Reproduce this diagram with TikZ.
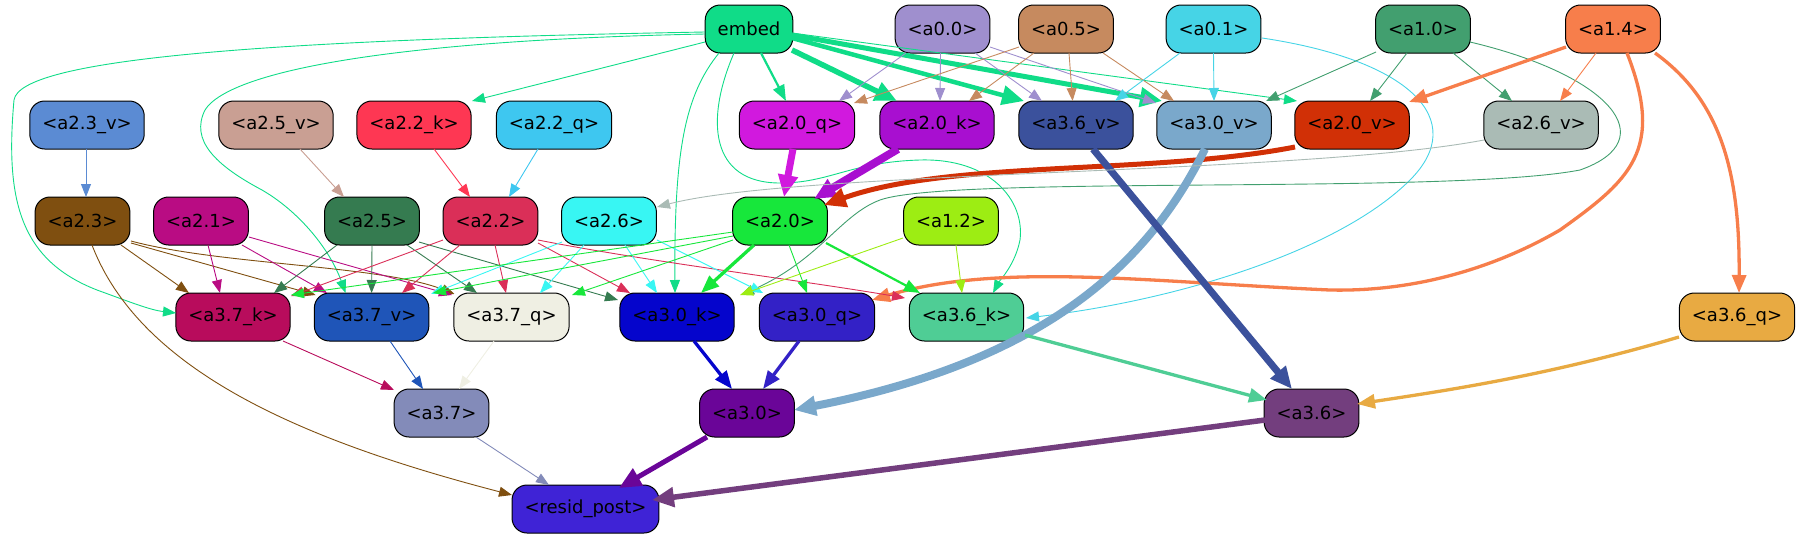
\documentclass[tikz,border=0pt]{standalone}
\usepackage{fontspec}
\setmainfont{DejaVu Sans}
\usetikzlibrary{arrows.meta,calc}
\definecolor{cembed}{HTML}{10DC88}
\definecolor{c00}{HTML}{9F8FCE}
\definecolor{c05}{HTML}{C68A5F}
\definecolor{c01}{HTML}{46D4E6}
\definecolor{c10}{HTML}{429F6F}
\definecolor{c14}{HTML}{F77E4B}
\definecolor{c23v}{HTML}{5B8BD3}
\definecolor{c25v}{HTML}{C99F93}
\definecolor{c22k}{HTML}{FE3753}
\definecolor{c22q}{HTML}{3EC7F0}
\definecolor{c20q}{HTML}{D119DE}
\definecolor{c20k}{HTML}{A80FD0}
\definecolor{c36v}{HTML}{3B519C}
\definecolor{c30v}{HTML}{7AA8CB}
\definecolor{c20v}{HTML}{D13006}
\definecolor{c26v}{HTML}{AABBB5}
\definecolor{c23}{HTML}{7F4F10}
\definecolor{c21}{HTML}{B90C83}
\definecolor{c25}{HTML}{357B50}
\definecolor{c22}{HTML}{DA2F58}
\definecolor{c26}{HTML}{38F6F3}
\definecolor{c20}{HTML}{17E73B}
\definecolor{c12}{HTML}{9DED13}
\definecolor{c37k}{HTML}{B80C5C}
\definecolor{c37v}{HTML}{1F55B8}
\definecolor{c37q}{HTML}{EFEFE3}
\definecolor{c30k}{HTML}{0505CC}
\definecolor{c30q}{HTML}{3321C6}
\definecolor{c36k}{HTML}{4FCD95}
\definecolor{c36q}{HTML}{E8AA42}
\definecolor{c37}{HTML}{838BB9}
\definecolor{c30}{HTML}{6A0598}
\definecolor{c36}{HTML}{733E7E}
\definecolor{cres}{HTML}{3F23D6}
\begin{document}
\begin{tikzpicture}[x=1pt,y=-1pt,
 nd/.style={draw=black, line width=1pt, rounded corners=15pt, minimum height=48pt, inner xsep=12.5pt, inner ysep=0pt, font=\fontsize{18}{21.6}\selectfont},
 e/.style={-{Triangle[length=13pt,width=10pt]}, line width=0.9pt},
 em/.style={-{Triangle[length=16pt,width=12pt]}, line width=2.2pt},
 et/.style={-{Triangle[length=18pt,width=14pt]}, line width=3.3pt},
 eb/.style={-{Triangle[length=22pt,width=19pt]}, line width=#1}]
\useasboundingbox (0,0) rectangle (1802,539);
% nodes
\node[nd,fill=cembed] (embed) at (749,29) {embed};
\node[nd,fill=c00] (a00) at (942.5,29) {<a0.0>};
\node[nd,fill=c05] (a05) at (1066,29) {<a0.5>};
\node[nd,fill=c01] (a01) at (1213.5,29) {<a0.1>};
\node[nd,fill=c10] (a10) at (1423,29) {<a1.0>};
\node[nd,fill=c14] (a14) at (1613,29) {<a1.4>};
\node[nd,fill=c23v] (a23v) at (87,125) {<a2.3\_v>};
\node[nd,fill=c25v] (a25v) at (276,125) {<a2.5\_v>};
\node[nd,fill=c22k] (a22k) at (414,125) {<a2.2\_k>};
\node[nd,fill=c22q] (a22q) at (554,125) {<a2.2\_q>};
\node[nd,fill=c20q] (a20q) at (797,125) {<a2.0\_q>};
\node[nd,fill=c20k] (a20k) at (937,125) {<a2.0\_k>};
\node[nd,fill=c36v] (a36v) at (1076,125) {<a3.6\_v>};
\node[nd,fill=c30v] (a30v) at (1214,125) {<a3.0\_v>};
\node[nd,fill=c20v] (a20v) at (1352,125) {<a2.0\_v>};
\node[nd,fill=c26v] (a26v) at (1541,125) {<a2.6\_v>};
\node[nd,fill=c23] (a23) at (82.5,221) {<a2.3>};
\node[nd,fill=c21] (a21) at (201,221) {<a2.1>};
\node[nd,fill=c25] (a25) at (372,221) {<a2.5>};
\node[nd,fill=c22] (a22) at (490.5,221) {<a2.2>};
\node[nd,fill=c26] (a26) at (609,221) {<a2.6>};
\node[nd,fill=c20] (a20) at (780,221) {<a2.0>};
\node[nd,fill=c12] (a12) at (951,221) {<a1.2>};
\node[nd,fill=c37k] (a37k) at (233,317) {<a3.7\_k>};
\node[nd,fill=c37v] (a37v) at (371.6,317) {<a3.7\_v>};
\node[nd,fill=c37q] (a37q) at (511.5,317) {<a3.7\_q>};
\node[nd,fill=c30k] (a30k) at (677,317) {<a3.0\_k>};
\node[nd,fill=c30q] (a30q) at (817,317) {<a3.0\_q>};
\node[nd,fill=c36k] (a36k) at (966.5,317) {<a3.6\_k>};
\node[nd,fill=c36q] (a36q) at (1737,317) {<a3.6\_q>};
\node[nd,fill=c37] (a37) at (441.5,413) {<a3.7>};
\node[nd,fill=c30] (a30) at (747,413) {<a3.0>};
\node[nd,fill=c36] (a36) at (1311.5,413) {<a3.6>};
\node[nd,fill=cres] (resid) at (585.5,509) {<resid\_post>};
% embed edges
\draw[em,cembed] ($(embed)+(12,24)$) -- ($(a20q)+(-11,-24)$);
\draw[eb=5.5pt,cembed] ($(embed)+(43,21)$) -- ($(a20k)+(-40,-24)$);
\draw[eb=4.5pt,cembed] ($(embed)+(43,9)$) -- ($(a36v)+(-52,-24)$);
\draw[eb=5pt,cembed] ($(embed)+(43,6)$) -- ($(a30v)+(-52,-24)$);
\draw[e,cembed] ($(embed)+(43,4)$) -- ($(a20v)+(-55,-24)$);
\draw[e,cembed] ($(embed)+(-44,13)$) -- ($(a22k)+(58,-24)$);
\draw[e,cembed] ($(embed)+(-44,3)$) .. controls (250,40) and (20,60) .. (14,100) .. controls (5,200) and (20,260) .. (97,290) .. controls (130,302) and (150,310) .. ($(a37k)+(-57,-4)$);
\draw[e,cembed] ($(embed)+(-44,5)$) .. controls (400,40) and (230,70) .. (205,110) .. controls (190,140) and (215,165) .. (262,190) .. controls (300,212) and (330,250) .. ($(a37v)+(-26,-24)$);
\draw[e,cembed] ($(embed)+(-30,24)$) .. controls (685,95) and (674,150) .. ($(a30k)+(-2,-24)$);
\draw[e,cembed] ($(embed)+(-15,24)$) .. controls (705,120) and (710,183) .. (780,183) .. controls (830,183) and (850,162) .. (920,160) .. controls (990,158) and (1025,200) .. (1020,240) .. controls (1015,265) and (1000,280) .. ($(a36k)+(26.5,-24)$);
% a0.0
\draw[e,c00] ($(a00)+(-36.5,24)$) -- ($(a20q)+(42,-24)$);
\draw[e,c00] ($(a00)+(-2,24)$) -- ($(a20k)+(3,-24)$);
\draw[e,c00] ($(a00)+(32.5,24)$) -- ($(a36v)+(-34,-24)$);
\draw[e,c00] ($(a00)+(47.5,18)$) -- ($(a30v)+(-58,-22)$);
% a0.5
\draw[e,c05] ($(a05)+(-47,18)$) -- ($(a20q)+(57,-22)$);
\draw[e,c05] ($(a05)+(-32,24)$) -- ($(a20k)+(32,-24)$);
\draw[e,c05] ($(a05)+(3,24)$) -- ($(a36v)+(-3.4,-24)$);
\draw[e,c05] ($(a05)+(37,24)$) -- ($(a30v)+(-40,-24)$);
% a0.1
\draw[e,c01] ($(a01)+(-33.5,24)$) -- ($(a36v)+(39,-24)$);
\draw[e,c01] ($(a01)+(0,24)$) -- ($(a30v)+(0,-24)$);
\draw[e,c01] ($(a01)+(48.5,9)$) .. controls (1410,60) and (1470,120) .. (1410,180) .. controls (1340,250) and (1180,300) .. ($(a36k)+(59.5,1)$);
% a1.0
\draw[e,c10] ($(a10)+(-47,23)$) -- ($(a30v)+(52,-24)$);
\draw[e,c10] ($(a10)+(-16,24)$) -- ($(a20v)+(18,-24)$);
\draw[e,c10] ($(a10)+(30,24)$) -- ($(a26v)+(-29,-24)$);
\draw[e,c10] ($(a10)+(47,13)$) .. controls (1610,75) and (1665,140) .. (1580,170) .. controls (1450,195) and (950,175) .. (880,200) .. controls (840,215) and (820,260) .. ($(a30k)+(64,-22)$);
% a1.4
\draw[et,c14] ($(a14)+(-47,18)$) -- ($(a20v)+(57,-23)$);
\draw[e,c14] ($(a14)+(-17,24)$) -- ($(a26v)+(19,-24)$);
\draw[et,c14] ($(a14)+(14,24)$) .. controls (1665,150) and (1630,180) .. (1560,230) .. controls (1500,265) and (1420,292) .. (1330,290) .. controls (1150,282) and (1000,262) .. ($(a30q)+(55,-17)$);
\draw[et,c14] ($(a14)+(42,24)$) .. controls (1720,100) and (1740,170) .. ($(a36q)+(2,-24)$);
% row 2 -> row 3
\draw[eb=7pt,c20q] ($(a20q)+(-4,24)$) -- ($(a20)+(4,-24)$);
\draw[eb=8pt,c20k] ($(a20k)+(-39,24)$) -- ($(a20)+(34,-22)$);
\draw[eb=5pt,c20v] ($(a20v)+(-57,22)$) .. controls (1150,175) and (950,160) .. ($(a20)+(44,-16)$);
\draw[eb=8pt,c30v] ($(a30v)+(-9,24)$) .. controls (1150,260) and (1050,360) .. ($(a30)+(47,-3)$);
\draw[eb=7pt,c36v] ($(a36v)+(17,24)$) -- ($(a36)+(-19.5,-24)$);
\draw[e,c26v] ($(a26v)+(-57,15)$) .. controls (1300,175) and (800,170) .. ($(a26)+(48,-14)$);
\draw[e,c23v] ($(a23v)+(-1,24)$) -- ($(a23)+(3.5,-24)$);
\draw[e,c25v] ($(a25v)+(24,24)$) -- ($(a25)+(-28,-24)$);
\draw[e,c22k] ($(a22k)+(20,24)$) -- ($(a22)+(-20.5,-24)$);
\draw[e,c22q] ($(a22q)+(-16,24)$) -- ($(a22)+(18.5,-24)$);
% a2.3
\draw[e,c23] ($(a23)+(38.5,24)$) -- ($(a37k)+(-44,-24)$);
\draw[e,c23] ($(a23)+(48.5,22)$) -- ($(a37v)+(-56,-22)$);
\draw[e,c23] ($(a23)+(48.5,20)$) .. controls (220,265) and (380,265) .. ($(a37q)+(-57,-23)$);
\draw[e,c23] ($(a23)+(9.5,24)$) .. controls (140,370) and (300,440) .. ($(resid)+(-73.5,-14)$);
% a2.1
\draw[e,c21] ($(a21)+(7,24)$) -- ($(a37k)+(-13,-24)$);
\draw[e,c21] ($(a21)+(41,24)$) -- ($(a37v)+(-44.6,-24)$);
\draw[e,c21] ($(a21)+(48,16)$) -- ($(a37q)+(-59.5,-22)$);
% a2.5
\draw[e,c25] ($(a25)+(-35,24)$) -- ($(a37k)+(41,-24)$);
\draw[e,c25] ($(a25)+(0,24)$) -- ($(a37v)+(0,-24)$);
\draw[e,c25] ($(a25)+(35,24)$) -- ($(a37q)+(-34.5,-24)$);
\draw[e,c25] ($(a25)+(47,21)$) -- ($(a30k)+(-59,-17)$);
% a2.2
\draw[e,c22] ($(a22)+(-47.5,19)$) -- ($(a37k)+(58,-21)$);
\draw[e,c22] ($(a22)+(-30.5,24)$) -- ($(a37v)+(30.4,-24)$);
\draw[e,c22] ($(a22)+(4.5,24)$) -- ($(a37q)+(-5.5,-24)$);
\draw[e,c22] ($(a22)+(47.5,22)$) -- ($(a30k)+(-47,-24)$);
\draw[e,c22] ($(a22)+(47.5,19)$) .. controls (650,262) and (800,280) .. ($(a36k)+(-61.5,-19)$);
% a2.6
\draw[e,c26] ($(a26)+(-47,21)$) -- ($(a37v)+(59.4,-23)$);
\draw[e,c26] ($(a26)+(-25,24)$) -- ($(a37q)+(28.5,-24)$);
\draw[e,c26] ($(a26)+(16,24)$) -- ($(a30k)+(-20,-24)$);
\draw[e,c26] ($(a26)+(48,19)$) -- ($(a30q)+(-54,-24)$);
% a2.0
\draw[e,c20] ($(a20)+(-47,11)$) -- ($(a37k)+(58,-22)$);
\draw[e,c20] ($(a20)+(-47,15)$) -- ($(a37v)+(61.4,-24)$);
\draw[e,c20] ($(a20)+(-47,19)$) -- ($(a37q)+(60.5,-22)$);
\draw[et,c20] ($(a20)+(-26,24)$) -- ($(a30k)+(24,-24)$);
\draw[e,c20] ($(a20)+(9,24)$) -- ($(a30q)+(-10,-24)$);
\draw[em,c20] ($(a20)+(46,22)$) -- ($(a36k)+(-46.5,-24)$);
% a1.2
\draw[e,c12] ($(a12)+(-48,17)$) -- ($(a30k)+(63,-22)$);
\draw[e,c12] ($(a12)+(5,24)$) -- ($(a36k)+(-4.5,-24)$);
% row 4 -> row 5
\draw[e,c37k] ($(a37k)+(50,24)$) -- ($(a37)+(-47.5,-23)$);
\draw[e,c37v] ($(a37v)+(18.4,24)$) -- ($(a37)+(-18.5,-24)$);
\draw[e,c37q] ($(a37q)+(-17.5,24)$) -- ($(a37)+(17.5,-24)$);
\draw[et,c30k] ($(a30k)+(17,24)$) -- ($(a30)+(-15,-24)$);
\draw[et,c30q] ($(a30q)+(-18,24)$) -- ($(a30)+(16,-24)$);
\draw[et,c36k] ($(a36k)+(58.5,18)$) -- ($(a36)+(-44.5,-13)$);
\draw[et,c36q] ($(a36q)+(-58,20)$) .. controls (1550,375) and (1450,390) .. ($(a36)+(45.5,-9)$);
\draw[e,c37] ($(a37)+(34.5,24)$) -- ($(resid)+(-36.5,-24)$);
\draw[eb=5pt,c30] ($(a30)+(-40,24)$) -- ($(resid)+(33.5,-21)$);
\draw[eb=5.5pt,c36] ($(a36)+(-46.5,7)$) -- ($(resid)+(66.5,-9)$);
\end{tikzpicture}
\end{document}
